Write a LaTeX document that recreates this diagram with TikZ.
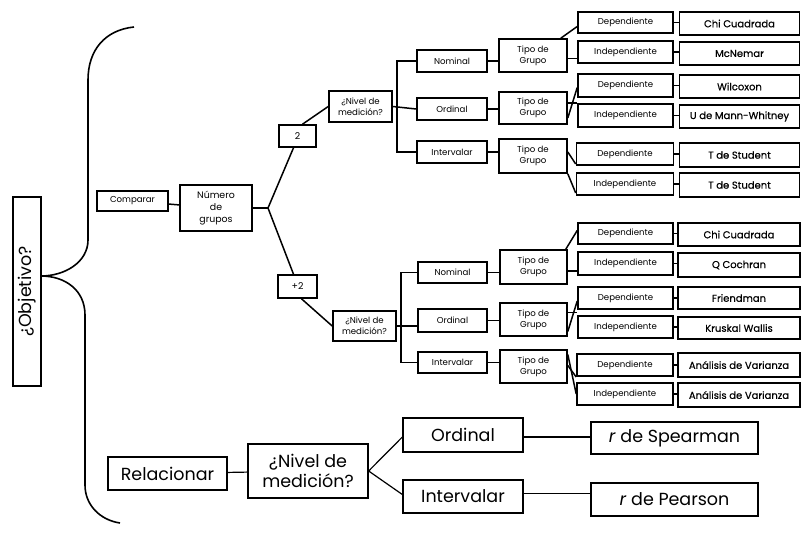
\documentclass[tikz,border=0pt]{standalone}
\usepackage{fontspec}
\setmainfont{Poppins}
\newfontfamily\resfont[FakeBold=0.5]{Poppins}
\begin{document}
\begin{tikzpicture}[x=1pt,y=-1pt,
  box/.style={draw=black, line width=1.6pt, fill=white, inner sep=0pt, align=center},
  tiny/.style={box, font=\fontsize{8.6}{11}\selectfont},
  small/.style={box, font=\fontsize{9.4}{12}\selectfont},
  res/.style={box, font=\resfont\fontsize{10}{12}\selectfont},
  big/.style={box, line width=1.3pt, font=\fontsize{17.5}{19.5}\selectfont},
  link/.style={line width=1.5pt},
  thin/.style={line width=1.2pt}]
\useasboundingbox (0,0) rectangle (802,544);

% main brace
\draw[line width=1.6pt] (134,27) .. controls (105,30) and (88,50) .. (88,80)
  -- (88,240) .. controls (88,262) and (65,276) .. (41,276)
  .. controls (65,276) and (85,290) .. (85,315)
  -- (85,485) .. controls (85,505) and (100,520) .. (120,523);

% question
\node[big, minimum width=189, minimum height=28, rotate=90] (obj) at (27,291.5) {¿Objetivo?};

% comparison branch
\node[tiny, minimum width=71, minimum height=20] (comp) at (132.5,201) {Comparar};
\node[small, minimum width=72, minimum height=46] (ngr) at (216,208) {Número\\de\\grupos};
\coordinate (J) at (268,208);
\draw[link] (comp) -- (ngr);
\draw[link] (ngr.east) -- (J);

\node[small, minimum width=37, minimum height=22] (two) at (297.5,136) {2};
\node[small, minimum width=39, minimum height=23] (plus) at (297.5,286.5) {+2};
\draw[link] (J) -- ([xshift=-4]two.south);
\draw[link] (J) -- ([xshift=-4]plus.north);

% two groups
\node[tiny, minimum width=63, minimum height=31] (nivA) at (360.5,106.5) {¿Nivel de\\medición?};
\draw[link] ([xshift=5]two.north) -- (nivA.west);
\node[tiny, minimum width=70, minimum height=22] (nomA) at (452,61) {Nominal};
\node[tiny, minimum width=70, minimum height=22] (ordA) at (452,109) {Ordinal};
\node[tiny, minimum width=70, minimum height=22] (intA) at (452,152) {Intervalar};
\draw[link] (nivA.east) -- (ordA.west);
\draw[link] (nomA.west) -- ++(-19,0) |- (intA.west);

\node[tiny, minimum width=68, minimum height=33] (tA1) at (533,55.5) {Tipo de\\Grupo};
\node[tiny, minimum width=68, minimum height=32] (tA2) at (533,108) {Tipo de\\Grupo};
\node[tiny, minimum width=68, minimum height=34] (tA3) at (533,156) {Tipo de\\Grupo};
\draw[link] (nomA.east) -- (nomA.east -| tA1.west);
\draw[link] (ordA.east) -- (ordA.east -| tA2.west);
\draw[link] (intA.east) -- (intA.east -| tA3.west);

\node[tiny, minimum width=95, minimum height=21] (dA1) at (625.5,22.5) {Dependiente};
\node[tiny, minimum width=95, minimum height=22] (iA1) at (625.5,52) {Independiente};
\node[tiny, minimum width=95, minimum height=23] (dA2) at (625.5,85.5) {Dependiente};
\node[tiny, minimum width=95, minimum height=23] (iA2) at (625.5,115.5) {Independiente};
\node[tiny, minimum width=97, minimum height=22] (dA3) at (625,154) {Dependiente};
\node[tiny, minimum width=97, minimum height=22] (iA3) at (625,184) {Independiente};

\draw[link] ([xshift=-7]tA1.north east) -- ([yshift=-4]dA1.west);
\draw[link] ([yshift=-3]tA1.east) -- ([yshift=-3]tA1.east -| iA1.west);
\draw[link] ([yshift=-10]tA2.east) -- ([yshift=-2]dA2.west);
\draw[link] ([yshift=5]tA2.east) -- ([yshift=5]tA2.east -| iA2.west);
\draw[link] ([yshift=4]tA3.east) -- ([yshift=-10]dA3.west);
\draw[link] (tA3.south east) -- ([yshift=-9]iA3.west);

\node[res, minimum width=120, minimum height=23] (rA1) at (739.5,23.5) {Chi Cuadrada};
\node[res, minimum width=120, minimum height=23] (rA2) at (739.5,53.5) {McNemar};
\node[res, minimum width=120, minimum height=23] (rA3) at (739.5,86.5) {Wilcoxon};
\node[res, minimum width=120, minimum height=23] (rA4) at (739.5,116.5) {U de Mann-Whitney};
\node[res, minimum width=120, minimum height=24] (rA5) at (739.5,155) {T de Student};
\node[res, minimum width=120, minimum height=24] (rA6) at (739.5,185) {T de Student};
\foreach \a/\b in {dA1/rA1,iA1/rA2,dA2/rA3,iA2/rA4,dA3/rA5,iA3/rA6}
  \draw[link] (\a.east) -- (\a.east -| \b.west);

% more than two groups
\node[tiny, minimum width=63, minimum height=30] (nivB) at (364.5,326) {¿Nivel de\\medición?};
\draw[link] ([xshift=4]plus.south) -- (nivB.west);
\node[tiny, minimum width=69, minimum height=21] (nomB) at (452.5,272.5) {Nominal};
\node[tiny, minimum width=69, minimum height=23] (ordB) at (452.5,320.5) {Ordinal};
\node[tiny, minimum width=69, minimum height=21] (intB) at (452.5,362.5) {Intervalar};
\draw[link] (nivB.east) -- (nivB.east -| ordB.west);
\draw[link] (nomB.west) -- ++(-16,0) |- (intB.west);

\node[tiny, minimum width=67, minimum height=34] (tB1) at (533.5,267) {Tipo de\\Grupo};
\node[tiny, minimum width=67, minimum height=33] (tB2) at (533.5,319.5) {Tipo de\\Grupo};
\node[tiny, minimum width=67, minimum height=33] (tB3) at (533.5,366.5) {Tipo de\\Grupo};
\draw[link] (nomB.east) -- (nomB.east -| tB1.west);
\draw[link] (ordB.east) -- (ordB.east -| tB2.west);
\draw[link] (intB.east) -- (intB.east -| tB3.west);

\node[tiny, minimum width=95, minimum height=21] (dB1) at (625.5,233.5) {Dependiente};
\node[tiny, minimum width=95, minimum height=23] (iB1) at (625.5,263.5) {Independiente};
\node[tiny, minimum width=95, minimum height=22] (dB2) at (625.5,298) {Dependiente};
\node[tiny, minimum width=95, minimum height=22] (iB2) at (625.5,327) {Independiente};
\node[tiny, minimum width=96, minimum height=22] (dB3) at (625,365) {Dependiente};
\node[tiny, minimum width=96, minimum height=22] (iB3) at (625,394) {Independiente};

\draw[link] ([xshift=-2]tB1.north east) -- ([yshift=3]dB1.west);
\draw[link] ([yshift=-4]tB1.east) -- ([yshift=-4]tB1.east -| iB1.west);
\draw[link] ([yshift=-12]tB2.east) -- ([yshift=-3]dB2.west);
\draw[link] ([yshift=7]tB2.east) -- ([yshift=7]tB2.east -| iB2.west);
\draw[link] ([yshift=1]tB3.east) -- ([yshift=-12]dB3.west);
\draw[link] ([yshift=12]tB3.east) -- (iB3.west);

\node[res, minimum width=122, minimum height=23] (rB1) at (739,234.5) {Chi Cuadrada};
\node[res, minimum width=122, minimum height=24] (rB2) at (739,265) {Q Cochran};
\node[res, minimum width=122, minimum height=22] (rB3) at (739,298) {Friendman};
\node[res, minimum width=122, minimum height=22] (rB4) at (739,328) {Kruskal Wallis};
\node[res, minimum width=122, minimum height=24] (rB5) at (739,365) {Análisis de Varianza};
\node[res, minimum width=122, minimum height=24] (rB6) at (739,395) {Análisis de Varianza};
\foreach \a/\b in {dB1/rB1,iB1/rB2,dB2/rB3,iB2/rB4,dB3/rB5,iB3/rB6}
  \draw[link] (\a.east) -- (\a.east -| \b.west);

% correlation branch
\node[big, minimum width=119, minimum height=33] (rel) at (167.5,473.5) {Relacionar};
\node[big, minimum width=120, minimum height=54] (nivC) at (308,471) {¿Nivel de\\medición?};
\node[big, minimum width=120, minimum height=34] (ordC) at (463,435) {Ordinal};
\node[big, minimum width=120, minimum height=33] (intC) at (463,496.5) {Intervalar};
\node[big, minimum width=167, minimum height=32] (spe) at (674.5,438) {\textit{r} de Spearman};
\node[big, minimum width=167, minimum height=33] (pea) at (674.5,499.5) {\textit{r} de Pearson};
\draw[thin] (rel) -- (nivC);
\draw[thin] (nivC.east) -- ([yshift=-2]ordC.west);
\draw[thin] (nivC.east) -- ([yshift=2]intC.west);
\draw[thin] ([yshift=-2]ordC.east) -- ([yshift=-2]ordC.east -| spe.west);
\draw[thin] ([yshift=3]intC.east) -- ([yshift=3]intC.east -| pea.west);
\end{tikzpicture}
\end{document}
